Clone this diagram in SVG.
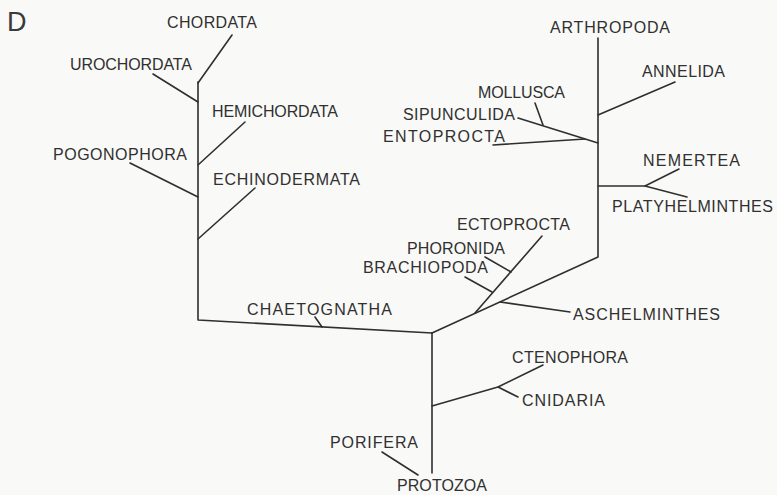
<svg xmlns="http://www.w3.org/2000/svg" width="777" height="495" viewBox="0 0 777 495">
  <style>
    .bg { fill: #f9f9f7; }
    .lbl { font-family: "Liberation Sans", Arial, sans-serif; font-size: 16px; fill: #303030; }
    .panel { font-family: "Liberation Sans", Arial, sans-serif; font-size: 27px; fill: #3a3a3a; }
    .edge { fill: none; stroke: #2f2f2f; stroke-width: 1.6; stroke-linecap: round; stroke-linejoin: round; }
  </style>
  <rect class="bg" x="0" y="0" width="777" height="495"/>

  <text class="panel" x="7" y="31">D</text>

  <!-- branches of the tree -->
  <g id="connectors">
    <!-- deuterostome trunk -->
    <path class="edge" d="M198,82 L198,320 L432,333"/>
    <path class="edge" d="M232,35 L198,83"/>
    <path class="edge" d="M153,74 L198,102"/>
    <path class="edge" d="M245,122 L198,165"/>
    <path class="edge" d="M130,163 L198,197"/>
    <path class="edge" d="M255,188 L198,239"/>
    <path class="edge" d="M315,317 L322,327"/>
    <!-- basal stem -->
    <path class="edge" d="M432,333 L432,473"/>
    <path class="edge" d="M432,406 L498,387 L543,365"/>
    <path class="edge" d="M498,387 L518,397"/>
    <path class="edge" d="M382,452 L418,475"/>
    <!-- protostome trunk -->
    <path class="edge" d="M432,333 L598,257 L598,38"/>
    <path class="edge" d="M475,313 L542,236"/>
    <path class="edge" d="M485,257 L511,272"/>
    <path class="edge" d="M465,277 L492,292"/>
    <path class="edge" d="M500,302 L570,312"/>
    <path class="edge" d="M675,82 L598,115"/>
    <path class="edge" d="M518,118 L598,143"/>
    <path class="edge" d="M493,145 L585,139"/>
    <path class="edge" d="M535,103 L543,125"/>
    <path class="edge" d="M598,186 L645,186 L679,169"/>
    <path class="edge" d="M645,186 L687,197"/>
  </g>

  <!-- taxon labels -->
  <g id="chordata"><text class="lbl" x="167" y="28" textLength="90" lengthAdjust="spacing">CHORDATA</text></g>
  <g id="urochordata"><text class="lbl" x="70" y="70" textLength="122" lengthAdjust="spacing">UROCHORDATA</text></g>
  <g id="hemichordata"><text class="lbl" x="212" y="117" textLength="126" lengthAdjust="spacing">HEMICHORDATA</text></g>
  <g id="pogonophora"><text class="lbl" x="53" y="160" textLength="134" lengthAdjust="spacing">POGONOPHORA</text></g>
  <g id="echinodermata"><text class="lbl" x="213" y="185" textLength="147" lengthAdjust="spacing">ECHINODERMATA</text></g>
  <g id="chaetognatha"><text class="lbl" x="247" y="315" textLength="145" lengthAdjust="spacing">CHAETOGNATHA</text></g>
  <g id="arthropoda"><text class="lbl" x="550" y="33" textLength="120" lengthAdjust="spacing">ARTHROPODA</text></g>
  <g id="annelida"><text class="lbl" x="642" y="77" textLength="83" lengthAdjust="spacing">ANNELIDA</text></g>
  <g id="mollusca"><text class="lbl" x="478" y="98" textLength="87" lengthAdjust="spacing">MOLLUSCA</text></g>
  <g id="sipunculida"><text class="lbl" x="403" y="120" textLength="112" lengthAdjust="spacing">SIPUNCULIDA</text></g>
  <g id="entoprocta"><text class="lbl" x="383" y="142" textLength="122" lengthAdjust="spacing">ENTOPROCTA</text></g>
  <g id="nemertea"><text class="lbl" x="643" y="166" textLength="97" lengthAdjust="spacing">NEMERTEA</text></g>
  <g id="platyhelminthes"><text class="lbl" x="612" y="212" textLength="161" lengthAdjust="spacing">PLATYHELMINTHES</text></g>
  <g id="ectoprocta"><text class="lbl" x="457" y="230" textLength="113" lengthAdjust="spacing">ECTOPROCTA</text></g>
  <g id="phoronida"><text class="lbl" x="407" y="254" textLength="98" lengthAdjust="spacing">PHORONIDA</text></g>
  <g id="brachiopoda"><text class="lbl" x="363" y="273" textLength="125" lengthAdjust="spacing">BRACHIOPODA</text></g>
  <g id="aschelminthes"><text class="lbl" x="573" y="320" textLength="147" lengthAdjust="spacing">ASCHELMINTHES</text></g>
  <g id="ctenophora"><text class="lbl" x="512" y="363" textLength="116" lengthAdjust="spacing">CTENOPHORA</text></g>
  <g id="cnidaria"><text class="lbl" x="522" y="406" textLength="83" lengthAdjust="spacing">CNIDARIA</text></g>
  <g id="porifera"><text class="lbl" x="330" y="448" textLength="88" lengthAdjust="spacing">PORIFERA</text></g>
  <g id="protozoa"><text class="lbl" x="397" y="491" textLength="90" lengthAdjust="spacing">PROTOZOA</text></g>
</svg>
